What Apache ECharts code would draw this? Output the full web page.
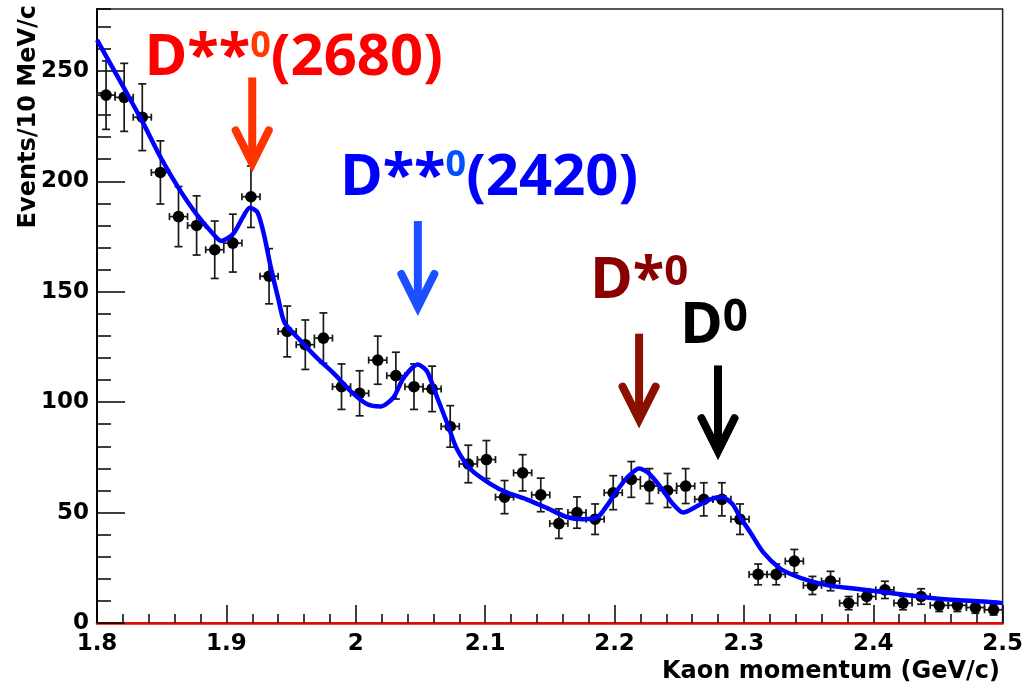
<!DOCTYPE html>
<html><head><meta charset="utf-8">
<script src="https://cdn.jsdelivr.net/npm/echarts@6/dist/echarts.min.js"></script>
<style>html,body{margin:0;padding:0;background:#fff}#c{width:1026px;height:689px}</style>
</head><body><div id="c"></div>
<script>
// ---- data ----
const binCenters = [1.807,1.821,1.835,1.849,1.863,1.877,1.891,1.905,1.919,1.933,
  1.947,1.961,1.975,1.989,2.003,2.017,2.031,2.045,2.059,2.073,
  2.087,2.101,2.115,2.129,2.143,2.157,2.171,2.185,2.199,2.213,
  2.227,2.241,2.255,2.269,2.283,2.297,2.311,2.325,2.339,2.353,
  2.367,2.381,2.395,2.409,2.423,2.437,2.451,2.465,2.479,2.493];
const counts = [239,238,229,204,184,180,169,172,193,157,
  132,126,129,107,104,119,112,107,106,89,
  72,74,57,68,58,45,50,47,59,65,
  62,60,62,56,56,47,22,22,28,17,
  19,9,12,15,9,12,8,8,7,6];
const countErrors = [15.5,15.4,15.1,14.3,13.6,13.4,13.0,13.1,13.9,12.5,
  11.5,11.2,11.4,10.3,10.2,10.9,10.6,10.3,10.3,9.4,
  8.5,8.6,7.5,8.2,7.6,6.7,7.1,6.9,7.7,8.1,
  7.9,7.7,7.9,7.5,7.5,6.9,4.7,4.7,5.3,4.1,
  4.4,3.0,3.5,3.9,3.0,3.5,2.8,2.8,2.6,2.4];
const binHalfWidth = 0.007;
const fitX = [1.800,1.822,1.836,1.849,1.863,1.877,1.890,1.896,1.905,1.913,1.918,1.924,1.929,1.934,1.940,1.945,
  1.957,1.970,1.983,1.996,2.009,2.019,2.029,2.037,2.048,2.055,2.063,2.071,2.078,2.089,
  2.104,2.117,2.132,2.148,2.163,2.176,2.187,2.194,2.202,2.210,2.219,2.226,2.235,2.245,2.253,
  2.264,2.274,2.283,2.291,2.297,2.305,2.315,2.328,2.339,2.349,2.367,2.385,2.406,2.426,2.447,2.467,2.488,2.500];
const fitY = [264,241,226,211,197,185,176,173,176,184,188,186,176,162,147,136,
  128,120,113,105,99,98,102,111,117,114,102,90,79,69.5,
  63,59,56,52,48,47,48,53,60,66,70,68,62,54,50,
  53,56,57,54,48,41,32,24.7,21.5,19.4,16.8,15.6,14.1,12.7,11.2,10.3,9.6,9];
const xTickValues = [1.8,1.9,2.0,2.1,2.2,2.3,2.4,2.5];
const yTickValues = [0,50,100,150,200,250];
const yMax = 278;
const peakNames = ['D**0(2680)','D**0(2420)','D*0','D0'];
const peakMomenta = [1.92,2.048,2.219,2.28];
const xTitle = 'Kaon momentum (GeV/c)';
const yTitle = 'Events/10 MeV/c';

// ---- annotation layout (positions / styles) ----
const FONT = '"Noto Sans", "DejaVu Sans", sans-serif';
const annot = [
  {arrowTop:247, arrowTip:204, color:'#ff3300', lx:1.837, ly:269,
   text:'{m|D**}{s|0}{m|(2680)}', main:'#ff0000', sup:'#ff3a00', supSize:36, supLH:28},
  {arrowTop:182, arrowTip:139, color:'#1a50ff', lx:1.988, ly:215,
   text:'{m|D**}{s|0}{m|(2420)}', main:'#0000ff', sup:'#0050ff', supSize:36, supLH:28},
  {arrowTop:131, arrowTip:88, color:'#8c1000', lx:2.1813, ly:168,
   text:'{m|D*}{s|0}', main:'#880000', sup:'#880000', supSize:42, supLH:31},
  {arrowTop:116.6, arrowTip:73.7, color:'#000000', lx:2.2509, ly:148,
   text:'{m|D}{s|0}', main:'#000000', sup:'#000000', supSize:44, supLH:25}
];

const pointData = binCenters.map((x,i)=>[x, counts[i], countErrors[i]]);
const fitData = fitX.map((x,i)=>[x, fitY[i]]);
const annotData = peakMomenta.map((x,i)=>[x, annot[i].arrowTop, annot[i].arrowTip, i]);

const chart = echarts.init(document.getElementById('c'), null, {renderer:'canvas'});
const axisFont = {fontFamily:'"DejaVu Sans", sans-serif', fontWeight:'bold', fontSize:23, color:'#000'};

chart.setOption({
  animation:false,
  backgroundColor:'#fff',
  grid:{left:97, right:23, top:9, bottom:66, show:true, borderColor:'#222', borderWidth:1.5, backgroundColor:'transparent'},
  xAxis:{type:'value', min:xTickValues[0], max:xTickValues[xTickValues.length-1], interval:0.1,
    axisLine:{show:true, onZero:false, lineStyle:{color:'#ee0000', width:2.5}},
    axisTick:{show:true, inside:true, length:18, lineStyle:{color:'#000', width:1.5}},
    minorTick:{show:true, splitNumber:5, length:9, lineStyle:{color:'#000', width:1.5}},
    splitLine:{show:false},
    axisLabel:Object.assign({margin:10, formatter:v=>String(+v.toFixed(1))}, axisFont)},
  yAxis:[
    {type:'value', min:yTickValues[0], max:yMax, interval:50,
     axisLine:{show:true, lineStyle:{color:'#000', width:2}},
     axisTick:{show:true, inside:true, length:28, lineStyle:{color:'#000', width:1.5}},
     splitLine:{show:false},
     axisLabel:Object.assign({margin:8, showMaxLabel:false}, axisFont)},
    {type:'value', min:yTickValues[0], max:yMax, interval:10, position:'left',
     axisLine:{show:false},
     axisTick:{show:true, inside:true, length:14, lineStyle:{color:'#000', width:1.5}},
     splitLine:{show:false}, axisLabel:{show:false}}
  ],
  series:[
    {type:'custom', coordinateSystem:'cartesian2d', data:pointData, z:3,
     encode:{x:0, y:1},
     renderItem:(params, api)=>{
       const x = api.value(0), y = api.value(1), e = api.value(2);
       const c = api.coord([x,y]);
       const top = api.coord([x,y+e]), bot = api.coord([x,y-e]);
       const l = api.coord([x-binHalfWidth,y]), r = api.coord([x+binHalfWidth,y]);
       const st = {stroke:'#1a1a1a', lineWidth:1.7, fill:null};
       const cw = 4, ch = 3.5;
       return {type:'group', children:[
         {type:'line', shape:{x1:c[0],y1:top[1],x2:c[0],y2:bot[1]}, style:st},
         {type:'line', shape:{x1:c[0]-cw,y1:top[1],x2:c[0]+cw,y2:top[1]}, style:st},
         {type:'line', shape:{x1:c[0]-cw,y1:bot[1],x2:c[0]+cw,y2:bot[1]}, style:st},
         {type:'line', shape:{x1:l[0],y1:c[1],x2:r[0],y2:c[1]}, style:st},
         {type:'line', shape:{x1:l[0],y1:c[1]-ch,x2:l[0],y2:c[1]+ch}, style:st},
         {type:'line', shape:{x1:r[0],y1:c[1]-ch,x2:r[0],y2:c[1]+ch}, style:st},
         {type:'circle', shape:{cx:c[0], cy:c[1], r:5.8}, style:{fill:'#000'}}
       ]};
     }},
    {type:'line', data:fitData, showSymbol:false, smooth:0.25, z:4,
     lineStyle:{color:'#0000ff', width:4.5}, itemStyle:{color:'#0000ff'}},
    {type:'custom', coordinateSystem:'cartesian2d', data:annotData, z:5, clip:false,
     encode:{x:0, y:1},
     renderItem:(params, api)=>{
       const a = annot[api.value(3)];
       const x = api.value(0);
       const p0 = api.coord([x, api.value(1)]);
       const p1 = api.coord([x, api.value(2)]);
       const lp = api.coord([a.lx, a.ly]);
       const hw = 16.5, hh = 33;
       const tipY = p1[1] - 9;
       return {type:'group', children:[
         {type:'line', shape:{x1:p0[0], y1:p0[1], x2:p0[0], y2:tipY-4}, style:{stroke:a.color, lineWidth:8, lineCap:'butt'}},
         {type:'polyline', shape:{points:[[p0[0]-hw, tipY-hh],[p0[0], tipY],[p0[0]+hw, tipY-hh]]},
          style:{stroke:a.color, lineWidth:8, lineCap:'round', lineJoin:'miter', fill:null}},
         {type:'text', x:lp[0], y:lp[1], style:{
           text:a.text, align:'left', verticalAlign:'top',
           rich:{
             m:{fontFamily:FONT, fontWeight:'bold', fontSize:58, lineHeight:60, fill:a.main, verticalAlign:'middle'},
             s:{fontFamily:FONT, fontWeight:'bold', fontSize:a.supSize, lineHeight:a.supLH, fill:a.sup, verticalAlign:'top'}
           }}}
       ]};
     }}
  ],
  graphic:[
    {type:'text', x:1000, y:672, style:{text:xTitle, align:'right', verticalAlign:'middle',
      font:'bold 24px "DejaVu Sans", sans-serif', fill:'#000'}},
    {type:'text', x:29, y:5, rotation:Math.PI/2, style:{text:yTitle, align:'right', verticalAlign:'middle',
      font:'bold 24px "DejaVu Sans", sans-serif', fill:'#000'}}
  ]
});
</script></body></html>
